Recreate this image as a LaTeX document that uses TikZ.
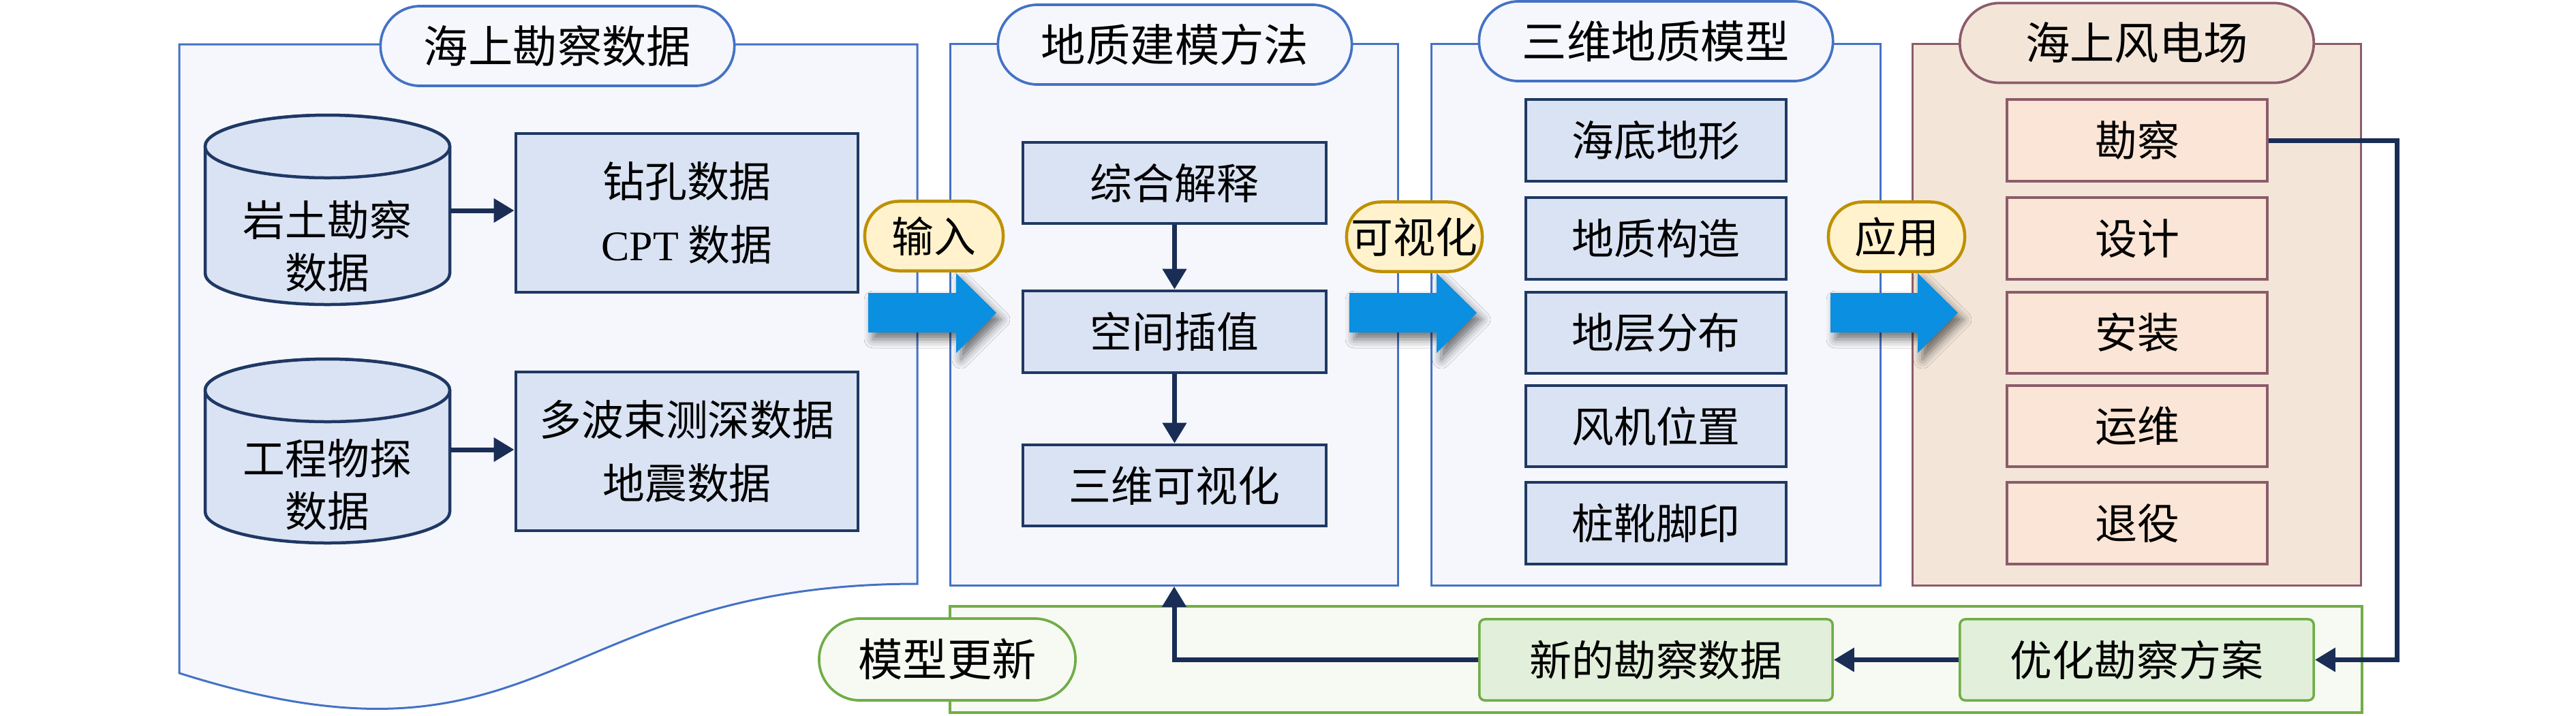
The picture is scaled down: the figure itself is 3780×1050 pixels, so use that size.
\documentclass[tikz,border=0pt]{standalone}
\usepackage{fontspec}
\setmainfont{Liberation Serif}
\newfontfamily\cjk{Noto Sans CJK SC}
\newfontfamily\lat{Liberation Serif}
\usetikzlibrary{arrows.meta,shadows.blur}
\definecolor{pBlue}{RGB}{68,114,196}
\definecolor{pBlueF}{RGB}{245,247,252}
\definecolor{bBlueF}{RGB}{218,227,243}
\definecolor{navy}{RGB}{31,56,100}
\definecolor{arrNavy}{RGB}{25,45,85}
\definecolor{pTan}{RGB}{140,92,106}
\definecolor{pTanF}{RGB}{243,230,217}
\definecolor{bTanF}{RGB}{251,229,214}
\definecolor{pGreen}{RGB}{112,173,71}
\definecolor{pGreenF}{RGB}{247,250,243}
\definecolor{bGreenF}{RGB}{226,239,218}
\definecolor{tagF}{RGB}{255,242,204}
\definecolor{tagD}{RGB}{191,144,0}
\definecolor{bigArr}{RGB}{10,143,225}
\begin{document}
\begin{tikzpicture}[x=0.01cm,y=-0.01cm,
  txt/.style={font=\cjk\fontsize{17.6pt}{26.5pt}\selectfont, align=center, inner sep=0pt},
  ttl/.style={font=\cjk\fontsize{18.6pt}{22pt}\selectfont, align=center, inner sep=0pt},
  panelB/.style={draw=pBlue, fill=pBlueF, line width=0.03cm},
  panelT/.style={draw=pTan, fill=pTanF, line width=0.03cm},
  panelG/.style={draw=pGreen, fill=pGreenF, line width=0.04cm},
  pillB/.style={ttl, draw=pBlue, fill=pBlueF, line width=0.037cm, rounded corners=0.58cm, minimum width=5.19cm, minimum height=1.17cm},
  pillT/.style={ttl, draw=pTan, fill=pTanF, line width=0.037cm, rounded corners=0.58cm, minimum width=5.19cm, minimum height=1.17cm},
  pillG/.style={ttl, draw=pGreen, fill=pGreenF, line width=0.037cm, rounded corners=0.6cm, minimum width=3.76cm, minimum height=1.2cm},
  boxB/.style={txt, draw=navy, fill=bBlueF, line width=0.045cm},
  boxT/.style={txt, draw=pTan, fill=bTanF, line width=0.045cm, minimum width=3.82cm, minimum height=1.2cm},
  boxG/.style={txt, draw=pGreen, fill=bGreenF, line width=0.035cm, rounded corners=0.08cm, minimum width=5.18cm, minimum height=1.19cm},
  tagbox/.style={txt, draw=tagD, fill=tagF, line width=0.045cm, rounded corners=0.5cm, minimum height=1.02cm},
  cylB/.style={draw=navy, fill=bBlueF, line width=0.045cm},
  navyArrow/.style={draw=arrNavy, line width=0.07cm, -{Triangle[length=0.3cm,width=0.34cm]}},
  bigArrow/.style={fill=bigArr, blur shadow={shadow xshift=0.07cm, shadow yshift=-0.1cm, shadow blur radius=0.13cm, shadow opacity=55}}
]
\useasboundingbox (0,0) rectangle (3780,1050);
\fill[white] (0,0) rectangle (3780,1050);

% ---------- panel 1 (document shape)
\path[panelB] (263,65) -- (1346,65) -- (1346,857) .. controls (804,857) and (804,1159) .. (263,988) -- cycle;
\node[pillB] (t1) at (818,67.5) {海上勘察数据};

% cylinders
\path[cylB] (301,215) -- (301,401) arc[start angle=180,end angle=0,x radius=179.5,y radius=46]
  -- (660,215) arc[start angle=0,end angle=-180,x radius=179.5,y radius=46] -- cycle;
\draw[cylB] (480.5,215) ellipse[x radius=179.5,y radius=46];
\node[minimum width=3.59cm, minimum height=1cm, inner sep=0pt] (cyl1) at (480.5,309) {};
\node[txt, font=\cjk\fontsize{17.6pt}{21.9pt}\selectfont] (cyl1t) at (480.5,361) {岩土勘察\\数据};

\path[cylB] (301,573) -- (301,751) arc[start angle=180,end angle=0,x radius=179.5,y radius=46]
  -- (660,573) arc[start angle=0,end angle=-180,x radius=179.5,y radius=46] -- cycle;
\draw[cylB] (480.5,573) ellipse[x radius=179.5,y radius=46];
\node[minimum width=3.59cm, minimum height=1cm, inner sep=0pt] (cyl2) at (480.5,660) {};
\node[txt, font=\cjk\fontsize{17.6pt}{21.9pt}\selectfont] (cyl2t) at (480.5,712) {工程物探\\数据};

\node[boxB, minimum width=5.02cm, minimum height=2.33cm] (b11) at (1008,312.5) {钻孔数据\\{\lat CPT} 数据};
\node[boxB, minimum width=5.02cm, minimum height=2.33cm] (b12) at (1008,662.5) {多波束测深数据\\地震数据};
\draw[navyArrow] (cyl1.east) -- (cyl1.east -| b11.west);
\draw[navyArrow] (cyl2.east) -- (cyl2.east -| b12.west);

% ---------- panel 2
\node[panelB, minimum width=6.56cm, minimum height=7.94cm] (P2) at (1723,462) {};
\node[pillB] (t2) at (1724,65.5) {地质建模方法};
\node[boxB, minimum width=4.45cm, minimum height=1.19cm] (b21) at (1723.5,268.5) {综合解释};
\node[boxB, minimum width=4.45cm, minimum height=1.2cm] (b22) at (1723.5,487) {空间插值};
\node[boxB, minimum width=4.45cm, minimum height=1.19cm] (b23) at (1723.5,712.5) {三维可视化};
\draw[navyArrow] (b21.south) -- (b22.north);
\draw[navyArrow] (b22.south) -- (b23.north);

% ---------- panel 3
\node[panelB, minimum width=6.58cm, minimum height=7.94cm] (P3) at (2430,462) {};
\node[pillB] (t3) at (2430,60.5) {三维地质模型};
\node[boxB, minimum width=3.82cm, minimum height=1.2cm] (b31) at (2430,206) {海底地形};
\node[boxB, minimum width=3.82cm, minimum height=1.2cm] (b32) at (2430,350) {地质构造};
\node[boxB, minimum width=3.82cm, minimum height=1.19cm] (b33) at (2430,488.5) {地层分布};
\node[boxB, minimum width=3.82cm, minimum height=1.19cm] (b34) at (2430,625.5) {风机位置};
\node[boxB, minimum width=3.82cm, minimum height=1.2cm] (b35) at (2430,768) {桩靴脚印};

% ---------- panel 4
\node[panelT, minimum width=6.57cm, minimum height=7.94cm] (P4) at (3135.5,462) {};
\node[pillT] (t4) at (3135.5,63) {海上风电场};
\node[boxT] (c41) at (3136,206) {勘察};
\node[boxT] (c42) at (3136,350) {设计};
\node[boxT, minimum height=1.19cm] (c43) at (3136,488.5) {安装};
\node[boxT, minimum height=1.19cm] (c44) at (3136,625.5) {运维};
\node[boxT] (c45) at (3136,768) {退役};

% ---------- big arrows
\path[bigArrow] (1274,430) -- (1403,430) -- (1403,401) -- (1462,459) -- (1403,518) -- (1403,488) -- (1274,488) -- cycle;
\path[bigArrow] (1980,430) -- (2108,430) -- (2108,401) -- (2167,459) -- (2108,518) -- (2108,488) -- (1980,488) -- cycle;
\path[bigArrow] (2686,430) -- (2814,430) -- (2814,401) -- (2873,459) -- (2814,518) -- (2814,488) -- (2686,488) -- cycle;

% tags
\node[tagbox, minimum width=2.03cm] (g1) at (1370.5,346.5) {输入};
\node[tagbox, minimum width=1.99cm] (g2) at (2075.5,347.5) {可视化};
\node[tagbox, minimum width=2.0cm] (g3) at (2783,347.5) {应用};

% ---------- feedback panel
\node[panelG, minimum width=20.7cm, minimum height=1.56cm] (PG) at (2430,968) {};
\node[pillG] (tg) at (1390,968) {模型更新};
\node[boxG] (n1) at (2430,968.5) {新的勘察数据};
\node[boxG, minimum width=5.19cm] (n2) at (3135.5,968.5) {优化勘察方案};

\draw[navyArrow] (c41.east) -- ++(188,0) |- (n2.east);
\draw[navyArrow] (n2.west) -- (n1.east);
\draw[navyArrow] (n1.west) -| (P2.south);
\end{tikzpicture}
\end{document}
